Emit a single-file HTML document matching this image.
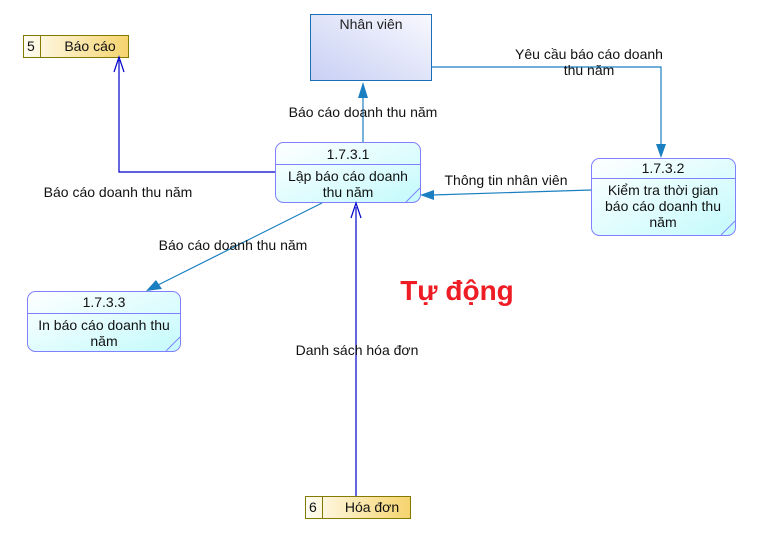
<!DOCTYPE html>
<html><head><meta charset="utf-8"><style>
body{margin:0;background:#fff;}
svg{display:block;font-family:"Liberation Sans",Arial,sans-serif;}
</style></head><body>
<svg width="763" height="533" viewBox="0 0 763 533" xmlns="http://www.w3.org/2000/svg">
<defs>
<linearGradient id="gp" x1="0" y1="0" x2="1" y2="1"><stop offset="0" stop-color="#ffffff"/><stop offset="1" stop-color="#c4fafc"/></linearGradient>
<linearGradient id="gn" x1="0" y1="1" x2="1" y2="0"><stop offset="0" stop-color="#c8d0f4"/><stop offset="1" stop-color="#f8f8fe"/></linearGradient>
<linearGradient id="gs" x1="0" y1="0" x2="1" y2="0"><stop offset="0" stop-color="#fffdf4"/><stop offset="1" stop-color="#f5d46e"/></linearGradient>
</defs>
<rect x="310.5" y="14.5" width="121" height="66" fill="url(#gn)" stroke="#1a6fb8"/>
<text x="371" y="29" font-size="14" text-anchor="middle" fill="#222">Nhân viên</text>
<rect x="23.5" y="35.5" width="105" height="22" fill="url(#gs)" stroke="#847a00"/>
<line x1="40.5" y1="35.5" x2="40.5" y2="57.5" stroke="#847a00"/>
<text x="27" y="51" font-size="14" fill="#111">5</text>
<text x="90" y="51" font-size="14" text-anchor="middle" fill="#111">Báo cáo</text>
<rect x="305.5" y="496.5" width="105" height="22" fill="url(#gs)" stroke="#847a00"/>
<line x1="322.5" y1="496.5" x2="322.5" y2="518.5" stroke="#847a00"/>
<text x="309" y="512" font-size="14" fill="#111">6</text>
<text x="372" y="512" font-size="14" text-anchor="middle" fill="#111">Hóa đơn</text>
<g stroke="#8080ff" fill="url(#gp)">
<rect x="275.5" y="142.5" width="145" height="60" rx="8"/>
<rect x="591.5" y="158.5" width="144" height="77" rx="8"/>
<rect x="27.5" y="291.5" width="153" height="60" rx="8"/>
</g>
<g stroke="#8080ff">
<line x1="275.5" y1="164.5" x2="420.5" y2="164.5"/>
<line x1="591.5" y1="178.5" x2="735.5" y2="178.5"/>
<line x1="27.5" y1="313.5" x2="180.5" y2="313.5"/>
<line x1="406" y1="202" x2="420" y2="188"/>
<line x1="721" y1="235" x2="735" y2="221"/>
<line x1="166" y1="351" x2="180" y2="337"/>
</g>
<g font-size="14" fill="#111" text-anchor="middle">
<text x="348" y="159">1.7.3.1</text>
<text x="348" y="181">Lập báo cáo doanh</text>
<text x="348" y="197">thu năm</text>
<text x="663" y="173">1.7.3.2</text>
<text x="663" y="195">Kiểm tra thời gian</text>
<text x="663" y="211">báo cáo doanh thu</text>
<text x="663" y="227">năm</text>
<text x="104" y="307">1.7.3.3</text>
<text x="104" y="330">In báo cáo doanh thu</text>
<text x="104" y="346">năm</text>
</g>
<g fill="none" stroke-width="1.2">
<line x1="363" y1="142" x2="363" y2="96" stroke="#1a7fc0"/>
<polyline points="432,67 661,67 661,146" stroke="#1a7fc0"/>
<line x1="591" y1="190" x2="432" y2="195" stroke="#1a7fc0"/>
<polyline points="275,172 119,172 119,60" stroke="#0000cc"/>
<line x1="322" y1="203" x2="158" y2="285" stroke="#1a7fc0"/>
<line x1="356" y1="496" x2="356" y2="207" stroke="#0000cc"/>
</g>
<g fill="#1a7fc0">
<polygon points="363,82 358,98 368,98"/>
<polygon points="661,158 656,144 666,144"/>
<polygon points="420,195 434,190 434,200"/>
<polygon points="146,291 156,280 162,289"/>
</g>
<g stroke="#0000cc" fill="none" stroke-width="1.2">
<polyline points="114,72 119,57 124,72"/>
<polyline points="351,218 356,203 361,218"/>
</g>
<g font-size="14" fill="#111" text-anchor="middle">
<text x="363" y="117">Báo cáo doanh thu năm</text>
<text x="589" y="59">Yêu cầu báo cáo doanh</text>
<text x="589" y="75">thu năm</text>
<text x="506" y="185">Thông tin nhân viên</text>
<text x="118" y="197">Báo cáo doanh thu năm</text>
<text x="233" y="250">Báo cáo doanh thu năm</text>
<text x="357" y="355">Danh sách hóa đơn</text>
</g>
<text x="457" y="300" font-size="28" font-weight="bold" text-anchor="middle" fill="#ee1c24">Tự động</text>
</svg>
</body></html>
